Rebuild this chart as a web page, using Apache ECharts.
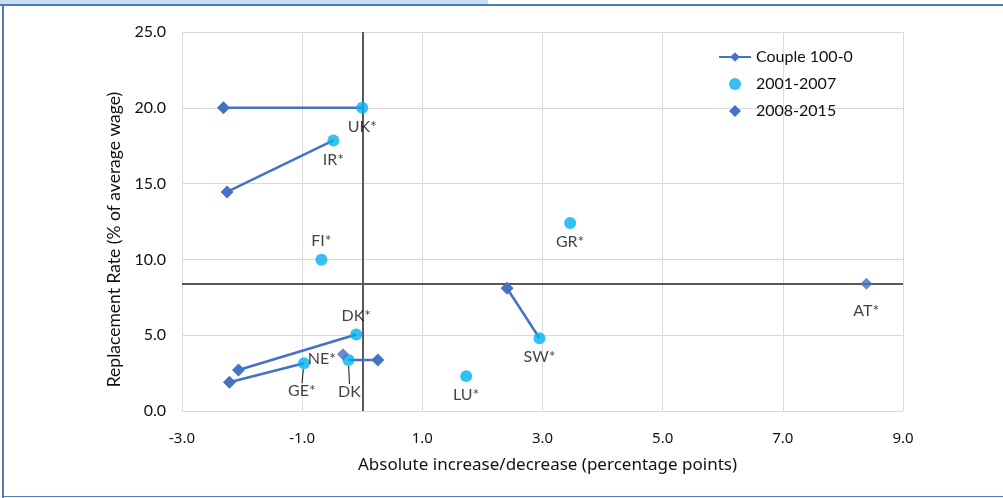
<!DOCTYPE html>
<html>
<head>
<meta charset="utf-8">
<script src="https://cdn.jsdelivr.net/npm/echarts@6/dist/echarts.min.js"></script>
<style>
html,body{margin:0;padding:0;background:#fff;}
#wrap{position:relative;width:1003px;height:498px;overflow:hidden;background:#fff;}
#band{position:absolute;left:0;top:0;width:488px;height:4px;background:#c9dcee;}
#btop{position:absolute;left:0;top:4px;width:1003px;height:2px;background:#4a7ebb;}
#bleft{position:absolute;left:2px;top:4px;width:2px;height:494px;background:#4a7ebb;}
#bbot{position:absolute;left:2px;top:496px;width:1001px;height:1px;background:#4a7ebb;}
#chart{position:absolute;left:0;top:0;width:1003px;height:498px;}
</style>
</head>
<body>
<div id="wrap">
<div id="chart"></div>
<div id="band"></div><div id="btop"></div><div id="bleft"></div><div id="bbot"></div>
</div>
<script>
// ---- data ----
const periodNames = ['Couple 100-0', '2001-2007', '2008-2015'];
// 2001-2007 points (circles)
const early = [
  ['UK*', 0.0, 20.0],
  ['IR*', -0.48, 17.85],
  ['FI*', -0.68, 9.98],
  ['GR*', 3.46, 12.4],
  ['SW*', 2.95, 4.8],
  ['LU*', 1.73, 2.3],
  ['DK*', -0.1, 5.05],
  ['GE*', -0.97, 3.15],
  ['DK', -0.23, 3.36]
];
// 2008-2015 points (diamonds) without a pair
const late = [
  ['AT*', 8.39, 8.4],
  ['NE*', -0.32, 3.74]
];
// Couple 100-0 segments: [country, x2008, y2008, x2001, y2001]
const couple = [
  ['UK*', -2.31, 20.0, 0.0, 20.0],
  ['IR*', -2.25, 14.45, -0.48, 17.85],
  ['SW*', 2.41, 8.1, 2.95, 4.8],
  ['DK*', -2.06, 2.7, -0.1, 5.05],
  ['GE*', -2.21, 1.9, -0.97, 3.15],
  ['DK', 0.26, 3.36, -0.23, 3.36]
];
const refX = 0;
const refY = 8.4;
const xTicks = {min: -3, max: 9, interval: 2};
const yTicks = {min: 0, max: 25, interval: 5};
const xTitle = 'Absolute increase/decrease (percentage points)';
const yTitle = 'Replacement Rate (% of average wage)';

// ---- label styling (presentation only) ----
const labelPos = {
  'UK*': {position: 'bottom', offset: [10, 4]},
  'IR*': {position: 'bottom', offset: [4, 6]},
  'FI*': {position: 'top', offset: [2, 3]},
  'GR*': {position: 'bottom', offset: [2, 6]},
  'SW*': {position: 'bottom', offset: [1, 10]},
  'LU*': {position: 'bottom', offset: [0, 10]},
  'DK*': {position: 'top', offset: [-12, 0]},
  'GE*': {position: 'bottom', offset: [0, 0]},
  'DK': {position: 'bottom', offset: [0, 0]},
  'AT*': {position: 'bottom', offset: [0, 8]},
  'NE*': {position: 'left', offset: [4, 5]}
};
const guided = {'GE*': [-2, 9], 'DK': [1, 13]};

const FONT = 'Lato, "Noto Sans", sans-serif';
const NARROW = '"Noto Sans", sans-serif';
const lineColor = '#4472c4';
const dotColor = '#00b0f0';
const txt = '#111111';

function pt(row) {
  const lp = labelPos[row[0]] || {};
  return {
    name: row[0],
    value: [row[1], row[2]],
    label: {show: true, position: lp.position, offset: lp.offset},
    labelLine: {show: !!guided[row[0]]}
  };
}

const coupleData = [];
couple.forEach((c, i) => {
  if (i > 0) coupleData.push('-');
  coupleData.push({value: [c[1], c[2]]});
  coupleData.push({value: [c[3], c[4]], symbol: 'none'});
});

const diamondPath = 'path://M5,0L10,5L5,10L0,5Z';
const labelStyle = {show: true, formatter: '{b}', fontFamily: FONT, fontSize: 16, color: txt, textBorderWidth: 0};

const chart = echarts.init(document.getElementById('chart'), null, {renderer: 'canvas'});
chart.setOption({
  animation: false,
  backgroundColor: 'transparent',
  textStyle: {fontFamily: FONT},
  grid: {left: 182, right: 100, top: 32, bottom: 87, containLabel: false},
  legend: {
    left: 713, top: 44, orient: 'vertical', itemGap: 11,
    itemWidth: 32, itemHeight: 12,
    textStyle: {fontFamily: FONT, fontSize: 16, color: txt},
    data: [
      {name: periodNames[0]},
      {name: periodNames[1], icon: 'circle'},
      {name: periodNames[2], icon: diamondPath, itemStyle: {color: lineColor, opacity: 1}}
    ]
  },
  xAxis: {
    type: 'value', min: xTicks.min, max: xTicks.max, interval: xTicks.interval,
    name: xTitle, nameLocation: 'middle', nameGap: 46,
    nameTextStyle: {fontFamily: NARROW, fontSize: 17, color: txt, padding: [0, 0, 0, 10]},
    axisLine: {show: false}, axisTick: {show: false},
    axisLabel: {formatter: v => v.toFixed(1), margin: 20, fontFamily: NARROW, fontSize: 15, color: txt},
    splitLine: {show: true, lineStyle: {color: '#d9d9d9', width: 1}}
  },
  yAxis: {
    type: 'value', min: yTicks.min, max: yTicks.max, interval: yTicks.interval,
    name: yTitle, nameLocation: 'middle', nameGap: 56, nameRotate: 90,
    nameTextStyle: {fontFamily: FONT, fontSize: 17.5, color: txt, padding: [0, 36, 0, 0]},
    axisLine: {show: false}, axisTick: {show: false},
    axisLabel: {formatter: v => v.toFixed(1), margin: 16, fontFamily: FONT, fontSize: 16, color: txt},
    splitLine: {show: true, lineStyle: {color: '#d9d9d9', width: 1}}
  },
  series: [
    {
      name: periodNames[0], type: 'line', data: coupleData,
      connectNulls: false,
      symbol: 'diamond', symbolSize: 13,
      lineStyle: {color: lineColor, width: 2.5},
      itemStyle: {color: lineColor},
      z: 3,
      markLine: {
        silent: true, symbol: 'none', label: {show: false},
        lineStyle: {color: '#595959', width: 2, type: 'solid'},
        data: [{xAxis: refX}, {yAxis: refY}],
        z: 2
      }
    },
    {
      name: periodNames[1], type: 'scatter', data: early.map(pt),
      symbol: 'circle', symbolSize: 12,
      itemStyle: {color: dotColor},
      label: labelStyle,
      labelLine: {lineStyle: {color: txt, width: 1}},
      labelLayout: function (p) {
        const g = guided[p.text];
        if (g) return {dx: g[0], dy: g[1]};
        return {};
      },
      z: 4
    },
    {
      name: periodNames[2], type: 'scatter', data: late.map(pt),
      symbol: 'diamond', symbolSize: 12,
      itemStyle: {color: lineColor},
      label: labelStyle,
      z: 4
    }
  ]
});
</script>
</body>
</html>
